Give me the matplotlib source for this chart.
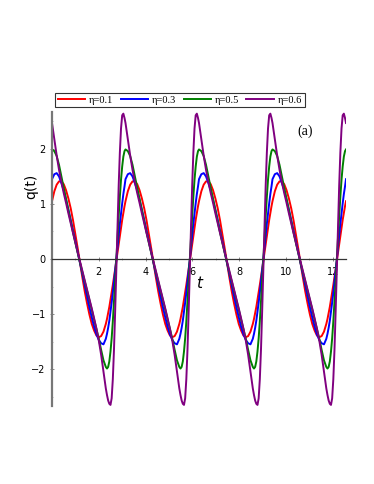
import numpy as np
import matplotlib
matplotlib.use("Agg")
import matplotlib.pyplot as plt

# one period of q(t): every 0.1 up to t=2.3,
# then every 0.05 where the curves turn sharply
PERIOD = 3.1416
n_periods = 4
t_period = np.concatenate([np.arange(24) * 0.1, 2.35 + np.arange(16) * 0.05])

labels = ["η=0.1", "η=0.3", "η=0.5", "η=0.6"]
colors = ["#ff0000", "#0000ff", "#008000", "#800080"]

q_eta01 = [1.05, 1.23, 1.35, 1.41, 1.41, 1.36, 1.25, 1.10, 0.92, 0.70, 0.45, 0.19,
           -0.08, -0.34, -0.59, -0.81, -1.01, -1.18, -1.30, -1.39, -1.42, -1.40,
           -1.32, -1.18,
           -1.09, -0.98, -0.87, -0.74, -0.61, -0.47, -0.33, -0.18,
           -0.03, 0.12, 0.28, 0.43, 0.57, 0.71, 0.84, 0.96]
q_eta03 = [1.45, 1.54, 1.56, 1.50, 1.38, 1.25, 1.08, 0.90, 0.71, 0.51, 0.32, 0.12,
           -0.08, -0.28, -0.48, -0.68, -0.88, -1.06, -1.23, -1.37, -1.47, -1.53,
           -1.55, -1.45,
           -1.36, -1.25, -1.12, -0.96, -0.79, -0.61, -0.41, -0.21,
           0.00, 0.22, 0.43, 0.64, 0.83, 1.01, 1.18, 1.32]
q_eta05 = [1.99, 1.96, 1.87, 1.71, 1.50, 1.29, 1.08, 0.88, 0.68, 0.48, 0.29, 0.11,
           -0.07, -0.24, -0.41, -0.58, -0.75, -0.92, -1.10, -1.27, -1.45, -1.65,
           -1.84, -1.96,
           -1.99, -1.96, -1.86, -1.68, -1.44, -1.13, -0.78, -0.40,
           0.00, 0.40, 0.78, 1.13, 1.44, 1.68, 1.86, 1.96]
q_eta06 = [2.47, 2.17, 1.88, 1.62, 1.40, 1.20, 1.02, 0.83, 0.65, 0.47, 0.30, 0.12,
           -0.05, -0.22, -0.39, -0.56, -0.73, -0.90, -1.08, -1.27, -1.48, -1.74,
           -2.05, -2.35,
           -2.47, -2.57, -2.63, -2.65, -2.53, -2.18, -1.64, -0.94,
           -0.16, 0.61, 1.33, 1.93, 2.37, 2.61, 2.64, 2.56]

x_ticks = [2, 4, 6, 8, 10, 12]
y_ticks = [-2, -1, 0, 1, 2]

fig = plt.figure(figsize=(3.74, 4.84), dpi=100)
ax = fig.add_axes([52 / 374, 1 - 406 / 484, 294 / 374, 294 / 484])

t_all = np.concatenate([t_period + k * PERIOD for k in range(n_periods)] + [[n_periods * PERIOD]])
for q, c, lab in zip([q_eta01, q_eta03, q_eta05, q_eta06], colors, labels):
    q = np.asarray(q)
    q_all = np.concatenate([np.tile(q, n_periods), q[:1]])
    ax.plot(t_all, q_all, color=c, lw=1.4, label=lab, solid_joinstyle="round")

ax.set_xlim(0, n_periods * PERIOD)
ax.set_ylim(-2.67, 2.67)

# maple-like axes: x axis through zero, y axis on the left
ax.spines["top"].set_visible(False)
ax.spines["right"].set_visible(False)
ax.spines["bottom"].set_position(("data", 0))
ax.spines["bottom"].set_color("#333333")
ax.spines["bottom"].set_linewidth(0.9)
ax.spines["left"].set_color("#777777")
ax.spines["left"].set_linewidth(1.6)

ax.set_xticks(x_ticks)
ax.set_xticks(np.arange(1, 13), minor=True)
ax.set_yticks(y_ticks)
ax.set_yticks(np.arange(-2.5, 2.6, 0.5), minor=True)
ax.tick_params(axis="both", which="major", labelsize=7, length=3, width=0.6,
               color="#777777", direction="inout", pad=3)
ax.tick_params(axis="both", which="minor", length=2, width=0.5, color="#999999",
               direction="inout")
ax.tick_params(axis="x", pad=4)

fig.text(31 / 374, 1 - 186 / 484, "q(t)", rotation=90, fontsize=10,
         ha="center", va="center")
fig.text(199 / 374, 1 - 283 / 484, "t", fontsize=11, style="italic",
         ha="center", va="center")
fig.text(305 / 374, 1 - 131 / 484, "(a)", fontsize=10, family="Liberation Serif",
         ha="center", va="center")

leg = fig.legend(loc="center", bbox_to_anchor=(180 / 374, 1 - 100 / 484), ncol=4,
                 prop={"family": "Liberation Serif", "size": 7.5}, frameon=True,
                 fancybox=False, edgecolor="black", handlelength=2.6,
                 handletextpad=0.4, columnspacing=0.7, borderpad=0.25,
                 borderaxespad=0)
leg.get_frame().set_linewidth(0.8)

fig.savefig("out.png", dpi=100)
